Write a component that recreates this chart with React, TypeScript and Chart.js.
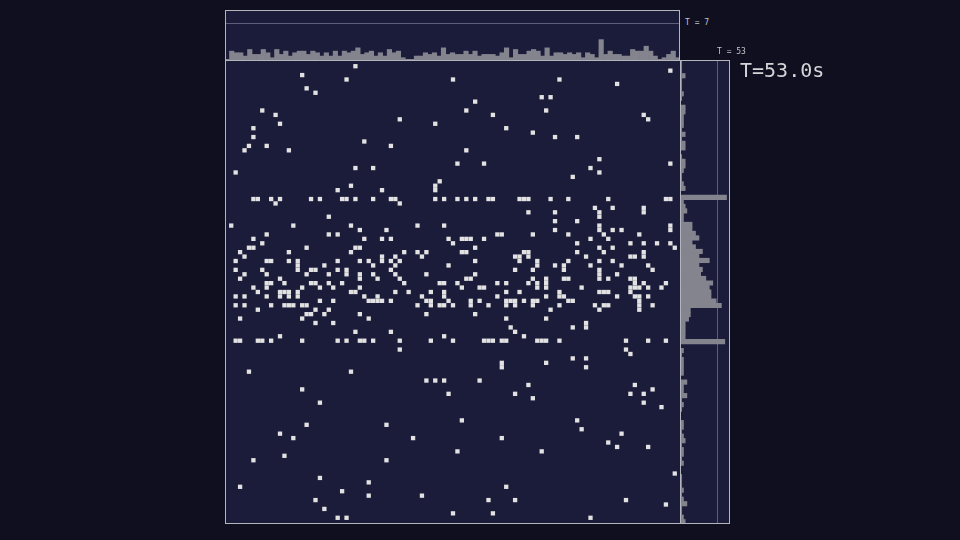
import React, { useEffect, useRef } from 'react';
import { Chart, registerables } from 'chart.js';
Chart.register(...registerables);

// ---- data -------------------------------------------------------------
const GRID_COLS = 101;
const GRID_ROWS = 103;

// live cells: index = row, values = columns that are alive
const liveByRow: number[][] = [
  [28], [99], [16], [26, 50, 74], [87], [17], [19], [70, 72], [55], [],
  [7, 53, 71], [10, 59, 93], [38, 94], [11, 46], [5, 62], [68], [5, 73, 78], [30], [4, 8, 36], [3, 13, 53],
  [], [83], [51, 57, 99], [28, 32, 81], [1, 83], [77], [47], [27, 46], [24, 34, 46], [],
  [5, 6, 9, 11, 18, 20, 25, 26, 28, 32, 36, 37, 46, 48, 51, 53, 55, 58, 59, 65, 66, 67, 72, 76, 85, 98, 99],
  [10, 38], [82, 86, 93], [67, 73, 83, 93], [22, 83], [73, 78], [0, 14, 27, 42, 48, 83, 99],
  [29, 35, 73, 83, 86, 88, 99], [8, 22, 24, 60, 61, 68, 76, 84, 92], [5, 30, 34, 36, 49, 52, 53, 54, 57, 81, 85],
  [7, 50, 78, 90, 93, 96, 99],
  [4, 5, 17, 28, 29, 55, 83, 86, 100],
  [2, 13, 27, 39, 42, 44, 52, 53, 66, 67, 78, 84, 93],
  [3, 34, 37, 43, 64, 65, 67, 80, 90, 91, 93],
  [1, 8, 9, 13, 15, 24, 29, 31, 34, 36, 38, 55, 65, 69, 76, 83, 86],
  [15, 21, 32, 37, 49, 69, 73, 75, 81, 88, 94],
  [1, 7, 15, 18, 19, 24, 26, 36, 64, 68, 75, 83, 95],
  [3, 8, 17, 22, 26, 29, 32, 37, 44, 55, 83, 87],
  [2, 11, 29, 33, 38, 53, 54, 68, 71, 75, 76, 83, 85, 90, 91],
  [8, 9, 12, 18, 19, 22, 25, 39, 47, 48, 51, 60, 62, 67, 69, 71, 91, 93, 98],
  [5, 8, 16, 20, 23, 29, 52, 56, 57, 69, 71, 79, 90, 91, 92, 94, 97],
  [6, 11, 12, 13, 15, 27, 28, 37, 40, 45, 48, 62, 65, 74, 83, 84, 85, 90],
  [1, 3, 8, 11, 13, 15, 30, 33, 43, 48, 60, 71, 74, 75, 87, 91, 92, 94],
  [20, 23, 31, 32, 33, 34, 36, 44, 45, 49, 54, 56, 62, 63, 64, 66, 68, 69, 76, 77, 92],
  [1, 3, 9, 12, 13, 14, 16, 17, 42, 45, 47, 48, 50, 54, 58, 62, 64, 68, 74, 82, 84, 85, 92, 95],
  [6, 19, 22, 72, 83, 92],
  [17, 18, 21, 29, 44, 55],
  [2, 16, 31, 62, 71],
  [19, 23, 80],
  [63, 77, 80],
  [28, 36, 64],
  [11, 48, 66],
  [1, 2, 6, 7, 9, 16, 24, 26, 29, 30, 32, 38, 45, 50, 57, 58, 59, 61, 62, 69, 70, 71, 74, 89, 94, 98],
  [],
  [38, 89], [90], [77, 80], [61, 71], [61, 80], [4, 27], [],
  [44, 46, 48, 56], [67, 91], [16, 95], [49, 64, 90, 93], [68], [20, 93], [97], [], [],
  [52, 78], [17, 35], [79], [11, 88], [14, 41, 61], [85], [87, 94], [51, 70], [12], [5, 35],
  [], [], [100], [20], [31], [2, 62], [25], [31, 43], [19, 58, 64, 89], [98], [21], [50, 59], [24, 26, 81],
];

const colLabels: string[] = Array.from({ length: GRID_COLS }, (_, i) => String(i));
const rowLabels: string[] = Array.from({ length: GRID_ROWS }, (_, i) => String(i));

const topAxisMax = 31;
const topThreshold = 22.9;
const rightAxisMax = 29;
const rightThreshold = 21.3;

const topLabel = 'T = 7';
const rightLabel = 'T = 53';
const timeLabel = 'T=53.0s';

// ---- styles ------------------------------------------------------------
const PAGE_BG = '#0f0f1f';
const PANEL_BG = '#1b1b3a';
const BORDER = '#b4b4bc';
const CELL = '#e2e2e2';
const BAR = '#84848f';
const GUIDE = 'rgba(150,150,175,0.55)';
const MONO = '"DejaVu Sans Mono", "Liberation Mono", monospace';

const panelPlugin = (threshold: number | null, axis: 'x' | 'y') => ({
  id: 'panel',
  beforeDraw(chart: any) {
    const { ctx, width, height } = chart;
    ctx.save();
    ctx.fillStyle = PANEL_BG;
    ctx.fillRect(0, 0, width, height);
    ctx.restore();
  },
  beforeDatasetsDraw(chart: any) {
    if (threshold === null) return;
    const { ctx, width, height } = chart;
    ctx.save();
    ctx.strokeStyle = GUIDE;
    ctx.lineWidth = 1;
    ctx.beginPath();
    if (axis === 'y') {
      const y = Math.round(chart.scales.y.getPixelForValue(threshold)) + 0.5;
      ctx.moveTo(0, y);
      ctx.lineTo(width, y);
    } else {
      const x = Math.round(chart.scales.x.getPixelForValue(threshold)) + 0.5;
      ctx.moveTo(x, 0);
      ctx.lineTo(x, height);
    }
    ctx.stroke();
    ctx.restore();
  },
  afterDraw(chart: any) {
    const { ctx, width, height } = chart;
    ctx.save();
    ctx.strokeStyle = BORDER;
    ctx.lineWidth = 1;
    ctx.strokeRect(0.5, 0.5, width - 1, height - 1);
    ctx.restore();
  },
});

export default function App() {
  const mainRef = useRef<HTMLCanvasElement>(null);
  const topRef = useRef<HTMLCanvasElement>(null);
  const rightRef = useRef<HTMLCanvasElement>(null);

  useEffect(() => {
    const points: { x: number; y: number }[] = [];
    liveByRow.forEach((cols, r) => cols.forEach((c) => points.push({ x: c, y: r })));
    const colCounts = colLabels.map((_, c) => liveByRow.filter((cols) => cols.includes(c)).length);
    const rowCounts = rowLabels.map((_, r) => (liveByRow[r] ? liveByRow[r].length : 0));

    const common = {
      responsive: false,
      maintainAspectRatio: false,
      animation: false as const,
      devicePixelRatio: 1,
      layout: { padding: 0 },
      events: [] as any[],
      plugins: { legend: { display: false }, tooltip: { enabled: false } },
    };

    const main = new Chart(mainRef.current!, {
      type: 'scatter',
      data: {
        datasets: [
          {
            data: points,
            pointStyle: 'rect',
            pointRadius: 3.05,
            pointBorderWidth: 0,
            backgroundColor: CELL,
            borderColor: CELL,
          },
        ],
      },
      options: {
        ...common,
        scales: {
          x: { type: 'linear', min: -0.5, max: GRID_COLS - 0.5, display: false },
          y: { type: 'linear', min: -0.5, max: GRID_ROWS - 0.5, reverse: true, display: false },
        },
      },
      plugins: [panelPlugin(null, 'y')],
    } as any);

    const top = new Chart(topRef.current!, {
      type: 'bar',
      data: {
        labels: colLabels,
        datasets: [
          {
            data: colCounts,
            backgroundColor: BAR,
            borderWidth: 0,
            barPercentage: 1,
            categoryPercentage: 1,
          },
        ],
      },
      options: {
        ...common,
        scales: {
          x: { display: false },
          y: { display: false, min: 0, max: topAxisMax },
        },
      },
      plugins: [panelPlugin(topThreshold, 'y')],
    } as any);

    const right = new Chart(rightRef.current!, {
      type: 'bar',
      data: {
        labels: rowLabels,
        datasets: [
          {
            data: rowCounts,
            backgroundColor: BAR,
            borderWidth: 0,
            barPercentage: 1,
            categoryPercentage: 1,
          },
        ],
      },
      options: {
        ...common,
        indexAxis: 'y',
        scales: {
          x: { display: false, min: 0, max: rightAxisMax },
          y: { display: false },
        },
      },
      plugins: [panelPlugin(rightThreshold, 'x')],
    } as any);

    return () => {
      main.destroy();
      top.destroy();
      right.destroy();
    };
  }, []);

  const small: React.CSSProperties = {
    position: 'absolute',
    fontFamily: MONO,
    fontSize: 8,
    color: '#c4c4c8',
    whiteSpace: 'pre',
    lineHeight: '10px',
  };

  return (
    <div style={{ position: 'fixed', left: 0, top: 0, width: 960, height: 540, background: PAGE_BG, overflow: 'hidden' }}>
      <canvas ref={topRef} width={455} height={51} style={{ position: 'absolute', left: 225, top: 10 }} />
      <canvas ref={rightRef} width={50} height={464} style={{ position: 'absolute', left: 680, top: 60 }} />
      <canvas ref={mainRef} width={456} height={464} style={{ position: 'absolute', left: 225, top: 60 }} />
      <div style={{ ...small, left: 685, top: 18 }}>{topLabel}</div>
      <div style={{ ...small, left: 717, top: 47 }}>{rightLabel}</div>
      <div
        style={{
          position: 'absolute',
          left: 740,
          top: 58,
          fontFamily: MONO,
          fontSize: 20,
          lineHeight: '24px',
          color: '#d4d4d8',
          whiteSpace: 'pre',
        }}
      >
        {timeLabel}
      </div>
    </div>
  );
}
